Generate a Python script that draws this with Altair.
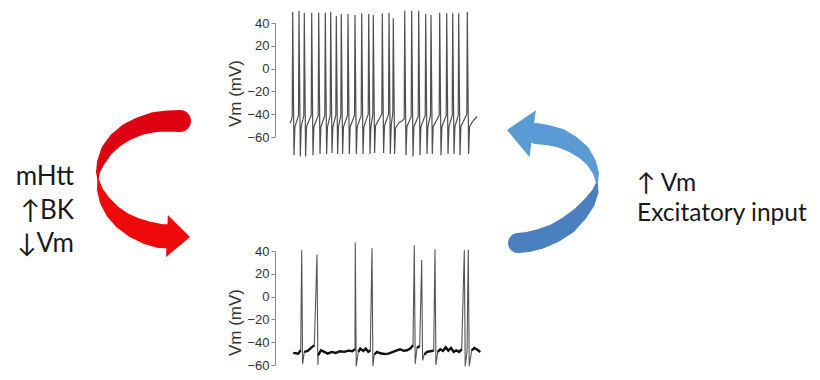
import altair as alt
import pandas as pd

# ---------------- top trace: tonic firing (Vm, mV) ----------------
top_spike_t = [2.7, 9, 14.3, 21.7, 28.7, 35.3, 40.7, 46.3, 51.3, 58, 65, 71.7, 78.7, 83.3,
               92.3, 99, 103.3, 114.7, 121.7, 128.7, 135.7, 141, 149.7, 156.7, 162.7, 168.7, 177.3]
top_peak = [49.9, 50.8, 49.0, 49.0, 49.0, 49.0, 49.9, 46.1, 47.9, 47.9, 47.0, 48.5, 47.9, 47.0,
            48.5, 49.0, 44.1, 50.8, 50.8, 50.8, 47.9, 47.0, 49.0, 48.5, 48.5, 48.5, 49.9]
top_trough = [-76, -77, -77, -76, -75, -75, -74, -75, -75, -75, -75, -75, -75, -74,
              -74, -75, -75, -76, -77, -76, -75, -75, -76, -75, -75, -76, -75]
top_thr = [-42, -41, -41, -41, -41, -41, -41, -41, -41, -41, -41, -41, -40, -40,
           -40, -40, -39, -44, -42, -42, -41, -41, -41, -41, -41, -41, -40]
top_rec = [-51, -51, -51, -51, -51, -51, -51, -51, -51, -51, -51, -51, -51, -50,
           -50, -50, -52, -51, -51, -51, -51, -51, -51, -51, -51, -51, -51]
top_extra_t = [0.0, 1.5, 109.0, 112.0, 183.0, 187.0]
top_extra_v = [-48, -45, -47.5, -46, -46, -42]

# ---------------- bottom trace: irregular firing (Vm, mV) ----------------
bot_spike_t = [11.7, 27, 65.3, 82, 124.3, 131.7, 145, 174.3, 178.3]
bot_peak = [40.6, 37, 47.5, 42.5, 45, 32, 41.5, 40.6, 41.2]
bot_trough = [-59, -60, -61, -61, -59, -56, -60, -61, -61]
bot_base_t = [3.3, 8.3, 10.7, 14.3, 17.7, 21, 24.3, 28.3, 31, 34.3, 37.7, 41.7, 45.7, 50, 54.3,
              58.3, 62.3, 65, 68.3, 70.3, 73.3, 75.7, 78.3, 80.3, 84.3, 87, 90.3, 94.3, 98.3,
              102.3, 106.3, 110, 113.7, 117, 120.3, 123, 127, 129.7, 134.3, 137, 140.3, 143.7,
              147.7, 150.3, 153, 155.7, 158.3, 161, 163.7, 166.3, 169, 171.7, 177, 181.7, 184.3,
              187, 190.3]
bot_base_v = [-49.4, -50.0, -47.1, -48.5, -47.6, -45.0, -42.8, -51.4, -47.1, -48.5, -50.0, -48.5,
              -49.4, -47.9, -48.5, -47.4, -47.9, -46.2, -48.5, -45.6, -47.6, -45.6, -48.5, -47.1,
              -50.8, -48.5, -49.7, -50.3, -50.0, -48.8, -47.4, -46.2, -47.6, -47.1, -45.6, -42.8,
              -45.0, -43.4, -50.8, -48.5, -47.9, -47.4, -48.5, -46.2, -47.6, -44.4, -47.4, -45.0,
              -48.5, -47.1, -48.5, -46.2, -48.5, -47.1, -45.0, -46.5, -48.5]

# ---------------- curved arrows (figure coordinates, px) ----------------
red_up_x = [180, 168, 155, 140, 127, 116, 107, 101, 98, 98]
red_up_y = [121, 121, 122, 126, 132, 140, 150, 162, 172, 179]
red_up_w = [22, 21, 20, 18, 17, 15, 12, 8, 4, 1.5]
red_lo_x = [98, 100, 105, 113, 123, 135, 148, 160, 170]
red_lo_y = [179, 190, 201, 212, 221, 228, 233, 236, 236.5]
red_lo_w = [1.5, 6, 11, 15, 18, 21, 23, 24, 24]
blue_lo_x = [518, 528, 540, 555, 568, 580, 589, 595, 597]
blue_lo_y = [243, 242, 239, 233, 225, 214, 203, 192, 183]
blue_lo_w = [20, 20, 20, 19, 18, 15, 12, 7, 2]
blue_up_x = [597, 596, 591, 583, 572, 560, 547, 536]
blue_up_y = [183, 173, 162, 152, 144, 138, 135, 133.5]
blue_up_w = [2, 6, 10, 14, 17, 19, 20, 21]
head_x = [178.5, 519.8]
head_y = [236.5, 131.8]
head_size = [1764, 2230]
head_angle = [2.5, 187.8]
head_part = ["red_lo", "blue_up"]

# ---------------- labels ----------------
left_text = ["mHtt", "↑BK", "↓Vm"]
left_x = [74, 74, 74]
left_y = [185, 218.5, 252]
right_text = ["↑ Vm", "Excitatory input"]
right_x = [637, 637]
right_y = [191, 221]

# ---------------- build tables ----------------
top_pts = []
for t, pk, tr, th, rc in zip(top_spike_t, top_peak, top_trough, top_thr, top_rec):
    top_pts += [(t - 0.5, th), (t, pk), (t + 1.3, tr), (t + 2.2, rc)]
top_pts += list(zip(top_extra_t, top_extra_v))
top_pts.sort()
top_df = pd.DataFrame(top_pts, columns=["t", "v"])

bot_pts = list(zip(bot_base_t, bot_base_v))
for t, pk, tr in zip(bot_spike_t, bot_peak, bot_trough):
    bot_pts += [(t, pk), (t + 0.9, tr)]
bot_pts.sort()
bot_df = pd.DataFrame(bot_pts, columns=["t", "v"])
base_df = pd.DataFrame({"t": bot_base_t, "v": bot_base_v})
base_df["seg"] = [sum(1 for s in bot_spike_t if s < t) for t in bot_base_t]

rows = []
for part, xs, ys, ws in [("red_up", red_up_x, red_up_y, red_up_w),
                         ("red_lo", red_lo_x, red_lo_y, red_lo_w),
                         ("blue_lo", blue_lo_x, blue_lo_y, blue_lo_w),
                         ("blue_up", blue_up_x, blue_up_y, blue_up_w)]:
    for i, (x, y, w) in enumerate(zip(xs, ys, ws)):
        rows.append({"part": part, "i": i, "x": x, "y": y, "w": w})
arrow_df = pd.DataFrame(rows)
head_df = pd.DataFrame({"x": head_x, "y": head_y, "s": head_size, "a": head_angle, "part": head_part})
left_df = pd.DataFrame({"x": left_x, "y": left_y, "txt": left_text})
right_df = pd.DataFrame({"x": right_x, "y": right_y, "txt": right_text})

# ---------------- scales ----------------
W, H = 804, 364
def tx():
    return alt.Scale(domain=[0, 190], range=[282, 472], nice=False, zero=False)
def top_y():
    return alt.Scale(domain=[-60, 40], range=[129, 15], nice=False, zero=False)
def bot_y():
    return alt.Scale(domain=[-60, 40], range=[357, 243], nice=False, zero=False)
def fx():
    return alt.Scale(domain=[8, 8 + W], range=[0, W], nice=False, zero=False)
def fy():
    return alt.Scale(domain=[8, 8 + H], range=[0, H], nice=False, zero=False)

part_colors = alt.Scale(domain=["red_up", "red_lo", "blue_lo", "blue_up"],
                        range=["#dc0010", "#ee0a0a", "#4a80bf", "#5b9bd5"])

def vm_axis(title_y):
    return alt.Axis(orient="left", offset=-267, values=[-60, -40, -20, 0, 20, 40],
                    title="Vm (mV)", titleX=-40, titleY=title_y, titleAngle=270,
                    titleAlign="center", titleBaseline="middle", titleFontSize=17,
                    titleFont="Liberation Sans", titleFontWeight="normal", titleColor="#333",
                    labelFont="Liberation Sans", labelFontSize=13, labelColor="#333",
                    labelPadding=2, tickSize=4, tickColor="#888", domainColor="#888",
                    grid=False)

top_line = alt.Chart(top_df).mark_line(color="#505050", strokeWidth=1.2).encode(
    x=alt.X("t:Q", scale=tx(), axis=None),
    y=alt.Y("v:Q", scale=top_y(), axis=vm_axis(85)),
)
bot_line = alt.Chart(bot_df).mark_line(color="#555555", strokeWidth=1.1).encode(
    x=alt.X("t:Q", scale=tx(), axis=None),
    y=alt.Y("v:Q", scale=bot_y(), axis=vm_axis(314)),
)
bot_base = alt.Chart(base_df).mark_line(color="#111111", strokeWidth=2.4).encode(
    x=alt.X("t:Q", scale=tx(), axis=None),
    y=alt.Y("v:Q", scale=bot_y(), axis=None),
    detail="seg:N",
)
arrows = alt.Chart(arrow_df).mark_trail().encode(
    x=alt.X("x:Q", scale=fx(), axis=None),
    y=alt.Y("y:Q", scale=fy(), axis=None),
    size=alt.Size("w:Q", scale=None, legend=None),
    color=alt.Color("part:N", scale=part_colors, legend=None),
    detail="part:N",
    order="i:Q",
)
heads = alt.Chart(head_df).mark_point(shape="M-0.55,-1L0.55,0L-0.55,1Z", filled=True,
                                      opacity=1, strokeWidth=0).encode(
    x=alt.X("x:Q", scale=fx(), axis=None),
    y=alt.Y("y:Q", scale=fy(), axis=None),
    size=alt.Size("s:Q", scale=None, legend=None),
    angle=alt.Angle("a:Q", scale=None),
    color=alt.Color("part:N", scale=part_colors, legend=None),
)
left_lbl = alt.Chart(left_df).mark_text(align="right", baseline="alphabetic", font="Lato",
                                        fontSize=26, color="#1a1a1a").encode(
    x=alt.X("x:Q", scale=fx(), axis=None),
    y=alt.Y("y:Q", scale=fy(), axis=None),
    text="txt:N",
)
right_lbl = alt.Chart(right_df).mark_text(align="left", baseline="alphabetic", font="Lato",
                                          fontSize=24.5, color="#1a1a1a").encode(
    x=alt.X("x:Q", scale=fx(), axis=None),
    y=alt.Y("y:Q", scale=fy(), axis=None),
    text="txt:N",
)

chart = alt.layer(top_line, bot_line, bot_base, arrows, heads, left_lbl, right_lbl).resolve_scale(
    x="independent", y="independent", color="independent", size="independent", angle="independent"
).properties(
    width=W, height=H, autosize=alt.AutoSizeParams(type="none"), padding=0,
    background="white",
).configure_view(stroke=None)

chart.save("out.html", embed_options={"renderer": "svg", "actions": False})
